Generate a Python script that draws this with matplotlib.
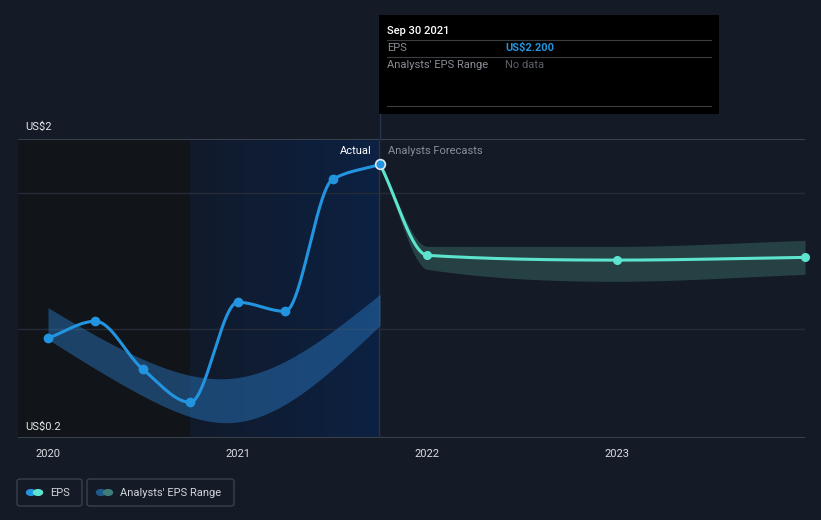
import numpy as np
import matplotlib.pyplot as plt
from matplotlib.patches import FancyBboxPatch, Rectangle, Circle
from matplotlib.lines import Line2D
from matplotlib.colors import LinearSegmentedColormap

plt.rcParams['font.family'] = ['Roboto', 'DejaVu Sans']

# EPS history (decimal years, US$)
eps_x = [2020.0, 2020.25, 2020.5, 2020.75, 2021.0, 2021.25, 2021.5, 2021.75]
eps_y = [0.934, 1.059, 0.706, 0.463, 1.199, 1.132, 2.103, 2.213]

# past analysts' range band
band_x = [2020.0, 2020.5, 2021.0, 2021.75]
band_hi = [1.159, 0.78, 0.645, 1.257]
band_lo = [0.926, 0.51, 0.318, 1.029]

# forecast
fc_x = [2021.75, 2022.0, 2023.0, 2023.99]
fc_y = [2.213, 1.544, 1.509, 1.529]
fc_hi = [2.213, 1.610, 1.610, 1.654]
fc_lo = [2.213, 1.441, 1.353, 1.404]

years = [2020, 2021, 2022, 2023]

BG = '#151b26'
BLUE = '#2394df'
TEAL = '#5de4ce'


def monotone(x, y, n=200):
    # Fritsch-Carlson monotone cubic, like d3.curveMonotoneX
    x = np.asarray(x, float)
    y = np.asarray(y, float)
    h = np.diff(x)
    d = np.diff(y) / h
    m = np.zeros_like(y)
    m[0], m[-1] = d[0], d[-1]
    for i in range(1, len(y) - 1):
        if d[i - 1] * d[i] <= 0:
            m[i] = 0
        else:
            w1 = 2 * h[i] + h[i - 1]
            w2 = h[i] + 2 * h[i - 1]
            m[i] = (w1 + w2) / (w1 / d[i - 1] + w2 / d[i])
    return hermite(x, y, m, n)


def hermite(x, y, m, n):
    h = np.diff(x)
    xs, ys = [], []
    for i in range(len(h)):
        t = np.linspace(0, 1, n)
        h00 = 2 * t**3 - 3 * t**2 + 1
        h10 = t**3 - 2 * t**2 + t
        h01 = -2 * t**3 + 3 * t**2
        h11 = t**3 - t**2
        xs.append(x[i] + t * h[i])
        ys.append(h00 * y[i] + h10 * h[i] * m[i] + h01 * y[i + 1] + h11 * h[i] * m[i + 1])
    return np.concatenate(xs), np.concatenate(ys)


def natural(x, y, n=200):
    # natural cubic spline through the points
    x = np.asarray(x, float)
    y = np.asarray(y, float)
    k = len(x)
    h = np.diff(x)
    A = np.zeros((k, k))
    r = np.zeros(k)
    A[0, 0] = A[-1, -1] = 1
    for i in range(1, k - 1):
        A[i, i - 1] = h[i - 1]
        A[i, i] = 2 * (h[i - 1] + h[i])
        A[i, i + 1] = h[i]
        r[i] = 3 * ((y[i + 1] - y[i]) / h[i] - (y[i] - y[i - 1]) / h[i - 1])
    c = np.linalg.solve(A, r)
    xs, ys = [], []
    for i in range(k - 1):
        b = (y[i + 1] - y[i]) / h[i] - h[i] * (2 * c[i] + c[i + 1]) / 3
        d = (c[i + 1] - c[i]) / (3 * h[i])
        t = np.linspace(0, h[i], n)
        xs.append(x[i] + t)
        ys.append(y[i] + b * t + c[i] * t**2 + d * t**3)
    return np.concatenate(xs), np.concatenate(ys)


fig = plt.figure(figsize=(8.21, 5.2), dpi=100, facecolor=BG)
ax = fig.add_axes([18 / 821, 82 / 520, 787 / 821, 299 / 520])
ax.set_facecolor(BG)
x0, x1 = 2019.842, 2023.99
ax.set_xlim(x0, x1)
ax.set_ylim(0.2, 2.4)

# shaded regions
ax.axvspan(x0, 2020.75, color='#111419', zorder=0, lw=0)
grad = np.linspace(0, 1, 256).reshape(1, -1)
cmap = LinearSegmentedColormap.from_list('hl', ['#111a2b', '#0c2142'])
ax.imshow(grad, extent=[2020.75, 2021.745, 0.2, 2.4], aspect='auto', cmap=cmap, zorder=0.5)

for g in [1.0, 2.0]:
    ax.axhline(g, color='#262c37', lw=1, zorder=1)
ax.axhline(2.4, color='#454b56', lw=1.2, zorder=1)
ax.axhline(0.2, color='#3a404a', lw=1.5, zorder=1)

# divider line
ax.plot([2021.745, 2021.745], [0.2, 2.4], color='#25344d', lw=1, zorder=2)
fig.add_artist(Line2D([379.5 / 821, 379.5 / 821], [(520 - 139) / 520, (520 - 114) / 520],
                      color='#25344d', lw=1))

# past range band
bx, bh = natural(band_x, band_hi)
_, bl = natural(band_x, band_lo)
ax.fill_between(bx, bl, bh, color='#2a7cc7', alpha=0.45, lw=0, zorder=2)

# forecast band
fx, fh = monotone(fc_x, fc_hi)
_, fl = monotone(fc_x, fc_lo)
ax.fill_between(fx, fl, fh, color='#2b4f4f', alpha=0.75, lw=0, zorder=2)

# lines
ex, ey = monotone(eps_x, eps_y)
ax.plot(ex, ey, color=BLUE, lw=2.2, zorder=4, solid_capstyle='round')
ax.plot(eps_x[:-1], eps_y[:-1], 'o', color=BLUE, ms=6, zorder=5)
fx2, fy2 = monotone(fc_x, fc_y)
ax.plot(fx2, fy2, color=TEAL, lw=2.2, zorder=4, solid_capstyle='round')
ax.plot(fc_x[1:], fc_y[1:], 'o', color=TEAL, ms=5.5, zorder=5, clip_on=False)
ax.plot(eps_x[-1:], eps_y[-1:], 'o', color=BLUE, ms=7, mec='#dfe8f2', mew=1.2, zorder=6)

ax.text(2021.705, 2.31, 'Actual', color='#ffffff', fontsize=8, ha='right', va='center')
ax.text(2021.79, 2.31, 'Analysts Forecasts', color='#8a9099', fontsize=8, ha='left', va='center')

ax.set_xticks(years)
ax.set_xticklabels([str(y) for y in years])
ax.tick_params(axis='x', length=0, colors='#d9dde3', labelsize=8, pad=8)
ax.set_yticks([])
for s in ax.spines.values():
    s.set_visible(False)

fig.text(25 / 821, 1 - 127 / 520, 'US$2', color='#e6e8eb', fontsize=8, va='center')
fig.text(25 / 821, 1 - 427 / 520, 'US$0.2', color='#e6e8eb', fontsize=8, va='center')

# tooltip
W, H = 821, 520
def fx_(px):
    return px / W
def fy_(py):
    return 1 - py / H

fig.add_artist(Rectangle((fx_(379), fy_(114)), 340 / W, 99 / H, color='#000000', lw=0))
for ly in [40, 57, 106]:
    fig.add_artist(Line2D([fx_(387), fx_(711)], [fy_(ly), fy_(ly)], color='#3b3d40', lw=0.8))
fig.text(fx_(387), fy_(31), 'Sep 30 2021', color='#ffffff', fontsize=8, va='center', weight='medium')
fig.text(fx_(387), fy_(48), 'EPS', color='#8a8f96', fontsize=8, va='center')
fig.text(fx_(505), fy_(48), 'US$2.200', color=BLUE, fontsize=8, va='center', weight='bold')
fig.text(fx_(387), fy_(65), "Analysts' EPS Range", color='#8a8f96', fontsize=8, va='center')
fig.text(fx_(505), fy_(65), 'No data', color='#5c6068', fontsize=8, va='center')

# legend
def legend_box(x, w, c1, c2, label):
    fig.add_artist(FancyBboxPatch((fx_(x), fy_(506)), w / W, 27 / H,
                                  boxstyle='round,pad=0,rounding_size=0.004',
                                  fc='none', ec='#3a414c', lw=1))
    cy = fy_(492.5)
    fig.add_artist(Circle((fx_(x + 14), cy), 4.5 / W, color=c1, transform=fig.transFigure))
    fig.add_artist(Circle((fx_(x + 21), cy), 4.5 / W, color=c2, transform=fig.transFigure))
    fig.text(fx_(x + 33), cy, label, color='#d0d4da', fontsize=8, va='center')

legend_box(17, 65, BLUE, TEAL, 'EPS')
legend_box(87, 147, '#1f5a8f', '#3d7d7a', "Analysts' EPS Range")

fig.savefig('out.png', dpi=100, facecolor=BG)
